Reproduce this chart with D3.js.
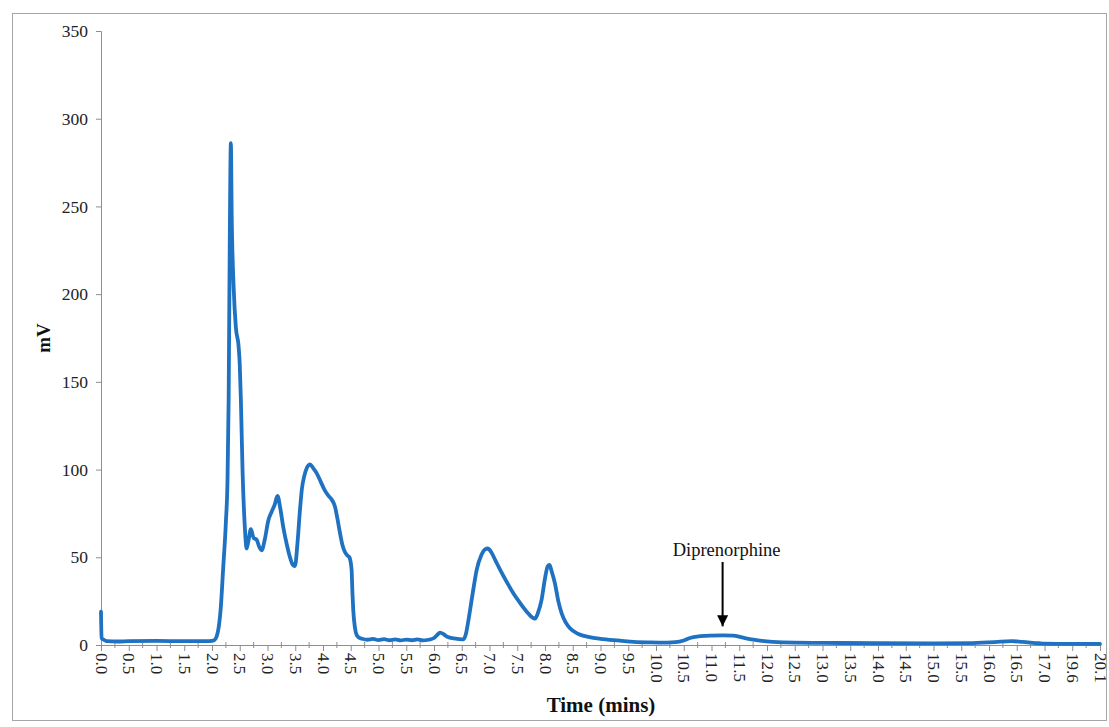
<!DOCTYPE html>
<html>
<head>
<meta charset="utf-8">
<script src="https://cdn.jsdelivr.net/npm/d3@7"></script>
<style>
  html, body { margin: 0; padding: 0; background: #fff; }
  svg { display: block; font-family: "Liberation Serif", "Times New Roman", serif; }
</style>
</head>
<body>
<svg id="chart" width="1109" height="727"></svg>
<script>
// Chromatogram trace: retention time (min) and detector response (mV)
const times = [
  0.00, 0.01, 0.05, 0.10, 0.30, 0.50, 1.00, 1.50, 1.90, 2.00, 2.05, 2.085, 2.12, 2.16, 2.20, 2.25, 2.28, 2.30, 2.32, 2.34,
  2.355, 2.39, 2.43, 2.48, 2.50, 2.52, 2.55, 2.59, 2.625, 2.66, 2.70, 2.75, 2.805, 2.85, 2.895, 2.95, 3.015, 3.075, 3.13, 3.18,
  3.23, 3.285, 3.35, 3.405, 3.45, 3.495, 3.54, 3.585, 3.62, 3.66, 3.71, 3.765, 3.82, 3.885, 3.96, 4.035, 4.10, 4.155, 4.215, 4.26,
  4.305, 4.35, 4.395, 4.44, 4.475, 4.515, 4.53, 4.545, 4.575, 4.61, 4.66, 4.70, 4.80, 4.90, 5.00, 5.10, 5.20, 5.30, 5.40, 5.50,
  5.60, 5.70, 5.80, 5.90, 6.00, 6.05, 6.11, 6.18, 6.25, 6.35, 6.45, 6.53, 6.58, 6.62, 6.70, 6.77, 6.85, 6.92, 6.97, 7.03,
  7.11, 7.19, 7.31, 7.43, 7.55, 7.67, 7.76, 7.82, 7.87, 7.94, 8.00, 8.05, 8.08, 8.12, 8.18, 8.24, 8.30, 8.37, 8.45, 8.60,
  8.80, 9.00, 9.35, 9.60, 9.90, 10.20, 10.35, 10.50, 10.61, 10.80, 10.97, 11.20, 11.39, 11.55, 11.75, 12.10, 12.50, 13.00, 14.00, 15.00,
  15.70, 16.10, 16.40, 16.60, 16.90, 17.00, 19.60, 20.10
];
const millivolts = [
  19, 4, 3, 2.2, 2.0, 2.2, 2.3, 2.2, 2.2, 2.4, 3, 5, 10, 22, 43, 70, 95, 140, 230, 286,
  245, 204, 181, 170, 160, 140, 100, 68, 55, 60, 66, 61, 60, 56, 54, 60, 71, 76, 80, 85,
  78, 67, 57, 50, 46, 45, 58, 77, 89, 96, 101, 103, 101, 98, 93, 88, 85, 83, 79, 72,
  64, 57, 53, 51, 50, 43, 30, 20, 10, 5.5, 4, 3.6, 3.0, 3.5, 2.8, 3.3, 2.7, 3.2, 2.6, 3.1,
  2.7, 3.2, 2.6, 3.0, 4.0, 5.5, 7, 6, 4.5, 3.8, 3.4, 3.2, 7, 14, 30, 43, 51, 54.5, 55, 53,
  48, 43, 36, 29.5, 24, 19, 16, 15, 18, 26, 38, 45, 45.6, 42, 35, 25, 18, 13, 9.5, 6.3,
  4.5, 3.5, 2.5, 1.8, 1.5, 1.4, 1.6, 2.6, 4, 5, 5.4, 5.5, 5.4, 4.3, 3, 1.8, 1.3, 1.2, 1.0, 0.9,
  1.1, 1.6, 2.2, 1.8, 1.0, 0.8, 0.6, 0.6
];

// Category-style time labels (the recorded run skips from 17.0 to 19.6)
const xTickLabels = [
  "0.0", "0.5", "1.0", "1.5", "2.0", "2.5", "3.0", "3.5", "4.0", "4.5", "5.0", "5.5",
  "6.0", "6.5", "7.0", "7.5", "8.0", "8.5", "9.0", "9.5", "10.0", "10.5", "11.0", "11.5",
  "12.0", "12.5", "13.0", "13.5", "14.0", "14.5", "15.0", "15.5", "16.0", "16.5", "17.0",
  "19.6", "20.1"
];
const yTicks = [0, 50, 100, 150, 200, 250, 300, 350];

// Annotated compound
const annotation = { label: "Diprenorphine", time: 11.2, value: 5.5 };

const svg = d3.select("#chart");
const plotLeft = 101, plotRight = 1100, plotTop = 31, plotBottom = 645;

// Chart frame
svg.append("rect")
  .attr("x", 12.5).attr("y", 13.5)
  .attr("width", 1094).attr("height", 707)
  .attr("fill", "#fff").attr("stroke", "#a6a6a6").attr("stroke-width", 1);

// Each label occupies an equal slot along the axis
const tickVals = xTickLabels.map(Number);
const step = (plotRight - plotLeft) / (tickVals.length - 1);
const x = d3.scaleLinear()
  .domain(tickVals)
  .range(tickVals.map((d, i) => plotLeft + i * step));
const y = d3.scaleLinear().domain([0, 350]).range([plotBottom, plotTop]);

const axisColor = "#8e8e8e";

// Y axis
const yAxis = svg.append("g")
  .attr("transform", `translate(${plotLeft},0)`)
  .call(d3.axisLeft(y).tickValues(yTicks).tickSize(5).tickPadding(8));
yAxis.select(".domain").attr("stroke", axisColor);
yAxis.selectAll(".tick line").attr("stroke", axisColor);
yAxis.selectAll(".tick text")
  .attr("font-size", 17.5).attr("fill", "#222")
  .attr("font-family", "Liberation Serif, Times New Roman, serif");

// X axis: major ticks at labels, minor ticks between them
const xAxis = svg.append("g")
  .attr("transform", `translate(0,${plotBottom})`)
  .call(d3.axisBottom(x).tickValues(tickVals).tickFormat((d, i) => xTickLabels[i]).tickSize(6).tickSizeOuter(0));
xAxis.select(".domain").attr("stroke", axisColor);
xAxis.selectAll(".tick line").attr("stroke", axisColor);
xAxis.selectAll(".tick text")
  .attr("font-size", 17).attr("fill", "#222")
  .attr("font-family", "Liberation Serif, Times New Roman, serif")
  .attr("transform", "rotate(90)")
  .attr("text-anchor", "start")
  .attr("x", 8).attr("y", 0).attr("dy", "0.35em");

const minor = d3.pairs(tickVals).map(([a, b]) => (x(a) + x(b)) / 2);
svg.append("g").selectAll("line").data(minor).join("line")
  .attr("x1", d => d).attr("x2", d => d)
  .attr("y1", plotBottom - 3).attr("y2", plotBottom + 3)
  .attr("stroke", axisColor);

// Trace
const points = times.map((t, i) => [t, millivolts[i]]);
svg.append("path")
  .datum(points)
  .attr("fill", "none")
  .attr("stroke", "#1f72c1")
  .attr("stroke-width", 3.8)
  .attr("stroke-linejoin", "round")
  .attr("stroke-linecap", "round")
  .attr("d", d3.line().x(d => x(d[0])).y(d => y(d[1])).curve(d3.curveMonotoneX));

// Annotation arrow and label
const ax = x(annotation.time);
const tipY = y(annotation.value) - 9;
svg.append("defs").append("marker")
  .attr("id", "arrowhead")
  .attr("viewBox", "0 0 10 10")
  .attr("refX", 10).attr("refY", 5)
  .attr("markerWidth", 5.5).attr("markerHeight", 5.5)
  .attr("orient", "auto")
  .append("path").attr("d", "M0,0 L10,5 L0,10 Z").attr("fill", "#000");
svg.append("line")
  .attr("x1", ax).attr("x2", ax)
  .attr("y1", 562).attr("y2", tipY)
  .attr("stroke", "#000").attr("stroke-width", 2)
  .attr("marker-end", "url(#arrowhead)");
svg.append("text")
  .attr("x", ax + 4).attr("y", 556)
  .attr("text-anchor", "middle")
  .attr("font-size", 18.5).attr("fill", "#111")
  .text(annotation.label);

// Axis titles
svg.append("text")
  .attr("x", 601).attr("y", 712)
  .attr("text-anchor", "middle")
  .attr("font-size", 21).attr("font-weight", "bold").attr("fill", "#111")
  .text("Time (mins)");
svg.append("text")
  .attr("transform", `translate(50,${(plotTop + plotBottom) / 2}) rotate(-90)`)
  .attr("text-anchor", "middle")
  .attr("font-size", 19).attr("font-weight", "bold").attr("fill", "#111")
  .text("mV");
</script>
</body>
</html>
